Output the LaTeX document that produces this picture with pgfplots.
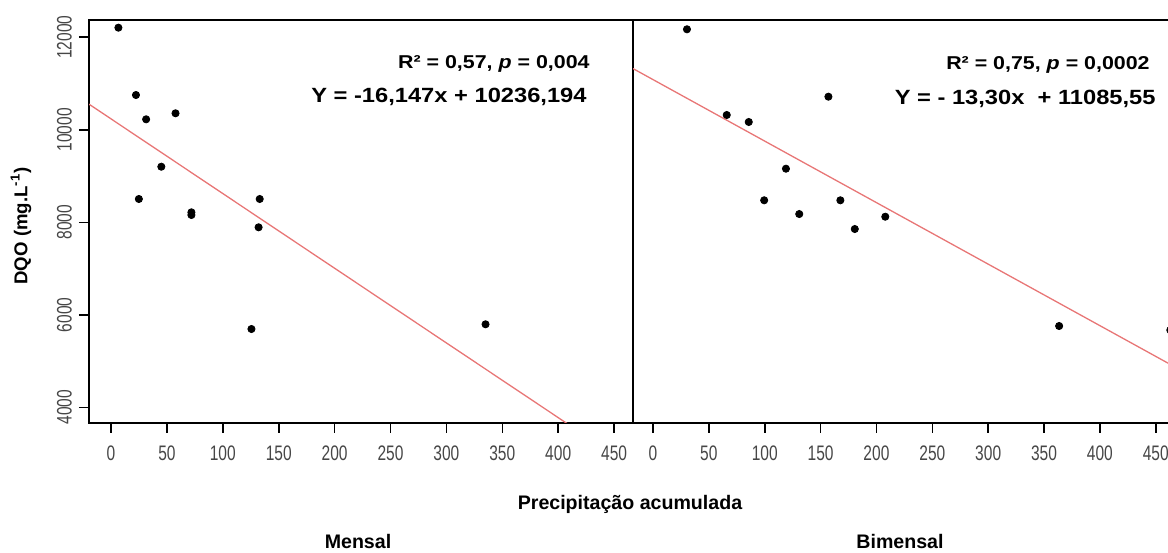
\documentclass[border=0pt]{standalone}
\usepackage{fontspec}
\setmainfont{Liberation Sans}
\usepackage{graphicx}
\usepackage{pgfplots}
\usepackage{pgfplotstable}
\pgfplotsset{compat=1.18}

\definecolor{fitred}{RGB}{232,118,118}
\definecolor{tickgray}{RGB}{70,70,70}

\pgfplotstableread{
x y
6.6 12208
22.3 10752
31.4 10227
57.7 10357
45 9202
24.9 8504
71.9 8216
71.9 8158
133 8504
132 7892
125.6 5693
335 5795
}\mensal

\pgfplotstableread{
x y
30.4 12173
157 10716
66 10320
85.7 10169
119 9159
99.5 8476
167.7 8476
130.9 8179
207.9 8121
180.6 7855
363.5 5758
463 5670
}\bimensal

\pgfplotsset{
  panel/.style={
    anchor=south west, scale only axis, width=272pt, height=201.5pt,
    ymin=3661, ymax=12374,
    axis line style={line width=1pt, black},
    xtick={0,50,...,450},
    tick pos=left,
    tick align=outside,
    tick style={black, line width=0.8pt},
    major tick length=5pt,
    scaled y ticks=false, scaled x ticks=false,
    xticklabel={\scalebox{0.74}[1]{\pgfmathprintnumber[assume math mode=true]{\tick}}},
    xticklabel style={yshift=-3pt},
    tick label style={font=\fontsize{10.5}{12}\selectfont, text=tickgray},
    /pgf/number format/1000 sep={},
    clip=true,
  }
}

\begin{document}
\begin{tikzpicture}
\useasboundingbox (0,0) rectangle (584pt,276pt);
\clip (0,0) rectangle (584pt,276pt);

\begin{axis}[panel, at={(44.5pt,64.5pt)}, xmin=-19.7, xmax=466.9,
  ytick={4000,6000,8000,10000,12000},
  yticklabel={\scalebox{0.74}[1]{\pgfmathprintnumber[assume math mode=true]{\tick}}},
  yticklabel style={rotate=90, anchor=south}]
\addplot[only marks, mark=*, mark size=1.8pt, black] table {\mensal};
\addplot[fitred, line width=0.65pt] coordinates {(-19.7,10554.29) (420,3454.45)};
\end{axis}

\begin{axis}[panel, at={(316.5pt,64.5pt)}, xmin=-17.9, xmax=469, ytick=\empty]
\addplot[only marks, mark=*, mark size=1.8pt, black] table {\bimensal};
\addplot[fitred, line width=0.65pt] coordinates {(-17.9,11323.62) (470,4834.55)};
\end{axis}

\node[anchor=east, inner sep=0pt] at (295pt,244pt)
  {\scalebox{1.15}[1]{\fontsize{9.3}{11}\selectfont\bfseries R² = 0,57, \textit{p} = 0,004}};
\node[anchor=east, inner sep=0pt] at (293.5pt,227.5pt)
  {\scalebox{1.15}[1]{\fontsize{10.3}{12}\selectfont\bfseries Y = -16,147x + 10236,194}};
\node[anchor=east, inner sep=0pt] at (575pt,243.5pt)
  {\scalebox{1.15}[1]{\fontsize{9.3}{11}\selectfont\bfseries R² = 0,75, \textit{p} = 0,0002}};
\node[anchor=east, inner sep=0pt] at (578pt,226.5pt)
  {\scalebox{1.15}[1]{\fontsize{10.3}{12}\selectfont\bfseries Y = - 13,30x\ \ + 11085,55}};

\node[font=\bfseries\fontsize{9.8}{12}\selectfont] at (315pt,24pt) {Precipitação acumulada};
\node[font=\bfseries\fontsize{9.8}{12}\selectfont] at (179pt,5.5pt) {Mensal};
\node[font=\bfseries\fontsize{9.8}{12}\selectfont] at (450pt,5.5pt) {Bimensal};
\node[rotate=90, font=\bfseries\fontsize{9.3}{11}\selectfont] at (10.5pt,163pt) {DQO (mg.L\textsuperscript{-1})};
\end{tikzpicture}
\end{document}
